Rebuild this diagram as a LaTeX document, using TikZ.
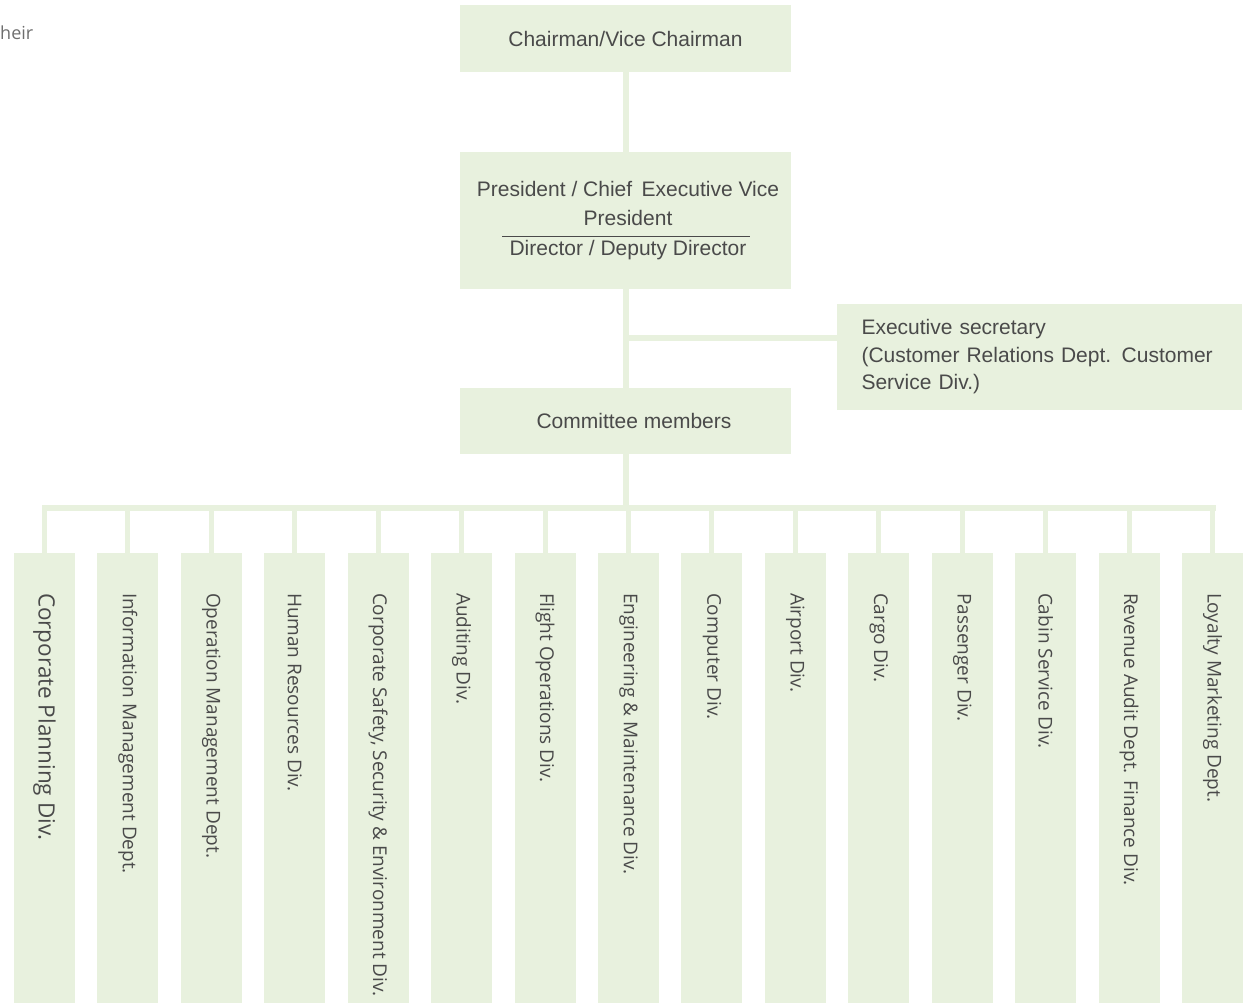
\documentclass[tikz,border=0pt]{standalone}
\usepackage{fontspec}
\setmainfont{Liberation Sans}
\newfontfamily\divfont{Open Sans}
\usetikzlibrary{calc}
\definecolor{boxgreen}{HTML}{E8F1DE}
\definecolor{inkgray}{HTML}{4A4A4A}
\definecolor{fraggray}{HTML}{6E6E6E}
\begin{document}
\begin{tikzpicture}[x=1pt,y=-1pt,
  orgbox/.style={fill=boxgreen, draw=none, inner sep=0pt, text=inkgray,
    font=\fontsize{21}{27.5}\selectfont},
  divbox/.style={fill=boxgreen, draw=none, inner sep=0pt,
    minimum width=61pt, minimum height=450pt},
  divtext/.style={rotate=-90, anchor=west, inner sep=0pt, text=inkgray},
  link/.style={draw=boxgreen, line width=6pt},
  drop/.style={draw=boxgreen, line width=5pt}]
\useasboundingbox (0,0) rectangle (1243,1003);

% stray word at the upper left
\node[anchor=base west, inner sep=0pt, text=fraggray,
  font=\divfont\fontsize{18}{20}\selectfont] (frag) at (0,40) {heir};

% upper levels
\node[orgbox, minimum width=331pt, minimum height=67pt] (chair) at (625.5,38.5)
  {Chairman/Vice Chairman};
\node[orgbox, minimum width=331pt, minimum height=137pt, align=center,
  font=\fontsize{21}{29.5}\selectfont] (pres) at (625.5,220.5)
  {\hspace*{5pt}President / Chief\hspace{0.45em}Executive Vice\\\hspace*{5pt}President\\\hspace*{5pt}Director / Deputy Director};
\draw[inkgray, line width=0.9pt] ($(pres.center)+(-123.5,15.5)$) -- ($(pres.center)+(124.5,15.5)$);
\node[orgbox, minimum width=331pt, minimum height=66pt] (comm) at (625.5,421)
  {\hspace*{17pt}Committee members};
\node[orgbox, minimum width=405pt, minimum height=106pt, text width=356pt,
  align=left] (exec) at (1039.5,357)
  {Executive secretary\\\makebox[356pt][s]{(Customer Relations Dept. Customer}\\Service Div.)};

% trunk and side branch
\coordinate (tap) at ($(pres.south)+(0,49)$);
\coordinate (bus) at ($(comm.south)+(0,54)$);
\draw[link] (chair.south) -- (pres.north);
\draw[link] (pres.south) -- (comm.north);
\draw[link] (tap) -- (tap -| exec.west);
\draw[link] (comm.south) -- (bus);

% divisions
\foreach \i/\fs/\lbl in {
  1/22.5/{Corporate Planning Div.},
  2/19/{Information Management Dept.},
  3/19/{Operation Management Dept.},
  4/19/{Human Resources Div.},
  5/19/{Corporate Safety, Security \& Environment Div.},
  6/19/{Auditing Div.},
  7/19/{Flight Operations Div.},
  8/19/{Engineering \& Maintenance Div.},
  9/19/{Computer Div.},
  10/19/{Airport Div.},
  11/19/{Cargo Div.},
  12/19/{Passenger Div.},
  13/19/{Cabin Service Div.},
  14/19/{Revenue Audit Dept. Finance Div.},
  15/19/{Loyalty Marketing Dept.}} {
  \node[divbox] (d\i) at ({44.5+83.43*(\i-1)},778) {};
  \node[divtext, font=\divfont\fontsize{\fs}{\fs}\selectfont] (t\i)
    at ($(d\i.north)+(0,40)$) {\lbl};
  \draw[drop] (d\i.north) -- (d\i.north |- bus);
}
\draw[link, line cap=rect] (d1.north |- bus) -- (d15.north |- bus);
\end{tikzpicture}
\end{document}
